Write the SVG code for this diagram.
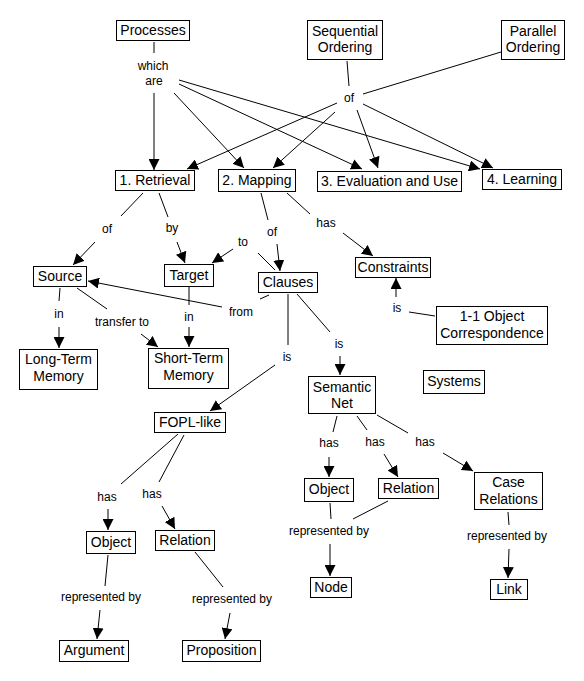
<svg xmlns="http://www.w3.org/2000/svg" width="584" height="681" viewBox="0 0 584 681">
<defs>
<style>
.n rect{fill:#fff;stroke:#000;stroke-width:1}
.n text{font-family:"Liberation Sans",Arial,sans-serif;font-size:14px;fill:#000;text-anchor:middle}
.lb{font-family:"Liberation Sans",Arial,sans-serif;font-size:12px;fill:#000;text-anchor:middle}
.c line{stroke:#000;stroke-width:1}
.a{marker-end:url(#ah)}
</style>
<marker id="ah" viewBox="0 0 10 10" refX="10" refY="5" markerWidth="11" markerHeight="11" markerUnits="userSpaceOnUse" orient="auto"><path d="M0,0 L10,5 L0,10 z" fill="#000"/></marker>
</defs>
<rect width="584" height="681" fill="#fff"/>
<g class="c" id="connectors">
<line x1="154" y1="42" x2="154" y2="53"/>
<line class="a" x1="154" y1="93" x2="154" y2="170"/>
<line class="a" x1="174" y1="93" x2="244" y2="168"/>
<line class="a" x1="179" y1="84" x2="362" y2="169"/>
<line class="a" x1="179" y1="80" x2="480" y2="169"/>
<line x1="347" y1="61" x2="349" y2="86"/>
<line x1="501" y1="52" x2="363" y2="94"/>
<line class="a" x1="337" y1="103" x2="187" y2="169"/>
<line class="a" x1="335" y1="112" x2="273" y2="168"/>
<line class="a" x1="357" y1="110" x2="378" y2="168"/>
<line class="a" x1="363" y1="104" x2="493" y2="168"/>
<line x1="143" y1="193" x2="121" y2="216"/>
<line class="a" x1="95" y1="242" x2="73" y2="265"/>
<line x1="159" y1="193" x2="168" y2="217"/>
<line class="a" x1="177" y1="242" x2="185" y2="263"/>
<line x1="261" y1="193" x2="268" y2="220"/>
<line class="a" x1="277" y1="244" x2="280" y2="271"/>
<line x1="275" y1="270" x2="258" y2="253"/>
<line class="a" x1="233" y1="249" x2="212" y2="263"/>
<line x1="287" y1="193" x2="310" y2="214"/>
<line class="a" x1="343" y1="233" x2="373" y2="256"/>
<line x1="435" y1="316" x2="409" y2="312"/>
<line class="a" x1="396" y1="297" x2="396" y2="278"/>
<line x1="269" y1="295" x2="260" y2="299"/>
<line class="a" x1="222" y1="307" x2="88" y2="281"/>
<line x1="60" y1="288" x2="59" y2="301"/>
<line class="a" x1="59" y1="327" x2="59" y2="348"/>
<line x1="77" y1="288" x2="107" y2="309"/>
<line class="a" x1="141" y1="334" x2="158" y2="347"/>
<line x1="189" y1="287" x2="189" y2="305"/>
<line class="a" x1="189" y1="327" x2="189" y2="347"/>
<line x1="288" y1="294" x2="288" y2="345"/>
<line class="a" x1="275" y1="365" x2="210" y2="411"/>
<line x1="297" y1="294" x2="330" y2="332"/>
<line class="a" x1="340" y1="356" x2="340" y2="375"/>
<line x1="178" y1="434" x2="121" y2="484"/>
<line class="a" x1="108" y1="509" x2="108" y2="530"/>
<line x1="184" y1="435" x2="159" y2="482"/>
<line class="a" x1="162" y1="506" x2="175" y2="529"/>
<line x1="108" y1="555" x2="105" y2="586"/>
<line class="a" x1="100" y1="610" x2="97" y2="639"/>
<line x1="195" y1="552" x2="223" y2="587"/>
<line class="a" x1="230" y1="613" x2="225" y2="639"/>
<line x1="337" y1="416" x2="333" y2="432"/>
<line class="a" x1="329" y1="457" x2="329" y2="477"/>
<line x1="357" y1="416" x2="367" y2="430"/>
<line class="a" x1="384" y1="454" x2="398" y2="477"/>
<line x1="377" y1="415" x2="408" y2="433"/>
<line class="a" x1="443" y1="453" x2="473" y2="471"/>
<line x1="330" y1="503" x2="331" y2="519"/>
<line x1="388" y1="501" x2="353" y2="519"/>
<line class="a" x1="330" y1="544" x2="330" y2="576"/>
<line x1="508" y1="512" x2="509" y2="525"/>
<line class="a" x1="509" y1="549" x2="508" y2="578"/>
</g>
<g id="labels">
<text class="lb" x="153" y="70">which</text>
<text class="lb" x="154" y="85">are</text>
<text class="lb" x="349" y="102">of</text>
<text class="lb" x="107" y="233">of</text>
<text class="lb" x="172" y="232">by</text>
<text class="lb" x="272" y="236">of</text>
<text class="lb" x="243" y="246">to</text>
<text class="lb" x="326" y="227">has</text>
<text class="lb" x="397" y="312">is</text>
<text class="lb" x="241" y="316">from</text>
<text class="lb" x="59" y="318">in</text>
<text class="lb" x="122" y="326">transfer to</text>
<text class="lb" x="189" y="321">in</text>
<text class="lb" x="287" y="361">is</text>
<text class="lb" x="339" y="348">is</text>
<text class="lb" x="107" y="501">has</text>
<text class="lb" x="152" y="498">has</text>
<text class="lb" x="101" y="601">represented by</text>
<text class="lb" x="232" y="603">represented by</text>
<text class="lb" x="329" y="447">has</text>
<text class="lb" x="375" y="446">has</text>
<text class="lb" x="425" y="446">has</text>
<text class="lb" x="329" y="535">represented by</text>
<text class="lb" x="507" y="540">represented by</text>
</g>
<g class="n" id="processes"><rect x="116.5" y="20.5" width="73" height="20"/><text x="153" y="35">Processes</text></g>
<g class="n" id="sequential"><rect x="307.5" y="20.5" width="75" height="39"/><text x="345" y="36">Sequential</text><text x="345" y="52">Ordering</text></g>
<g class="n" id="parallel"><rect x="501.5" y="20.5" width="63" height="39"/><text x="533" y="36">Parallel</text><text x="533" y="52">Ordering</text></g>
<g class="n" id="retrieval"><rect x="115.5" y="170.5" width="79" height="20"/><text x="155" y="185">1. Retrieval</text></g>
<g class="n" id="mapping"><rect x="218.5" y="169.5" width="77" height="22"/><text x="257" y="185">2. Mapping</text></g>
<g class="n" id="evaluation"><rect x="317.5" y="171.5" width="144" height="20"/><text x="389.5" y="186">3. Evaluation and Use</text></g>
<g class="n" id="learning"><rect x="482.5" y="169.5" width="79" height="20"/><text x="522" y="184">4. Learning</text></g>
<g class="n" id="source"><rect x="33.5" y="266.5" width="53" height="20"/><text x="60" y="281">Source</text></g>
<g class="n" id="target"><rect x="164.5" y="264.5" width="49" height="22"/><text x="189" y="280">Target</text></g>
<g class="n" id="clauses"><rect x="258.5" y="272.5" width="59" height="20"/><text x="288" y="287">Clauses</text></g>
<g class="n" id="constraints"><rect x="355.5" y="257.5" width="75" height="20"/><text x="393" y="272">Constraints</text></g>
<g class="n" id="correspondence"><rect x="436.5" y="306.5" width="111" height="38"/><text x="492" y="321">1-1 Object</text><text x="492" y="338">Correspondence</text></g>
<g class="n" id="ltm"><rect x="19.5" y="349.5" width="78" height="40"/><text x="58.5" y="364">Long-Term</text><text x="58.5" y="381">Memory</text></g>
<g class="n" id="stm"><rect x="148.5" y="348.5" width="80" height="40"/><text x="188.5" y="363">Short-Term</text><text x="188.5" y="380">Memory</text></g>
<g class="n" id="semnet"><rect x="308.5" y="376.5" width="67" height="37"/><text x="342" y="392">Semantic</text><text x="342" y="408">Net</text></g>
<g class="n" id="systems"><rect x="423.5" y="370.5" width="61" height="23"/><text x="454" y="386">Systems</text></g>
<g class="n" id="fopl"><rect x="154.5" y="412.5" width="71" height="20"/><text x="190" y="427">FOPL-like</text></g>
<g class="n" id="object1"><rect x="86.5" y="531.5" width="49" height="22"/><text x="111" y="547">Object</text></g>
<g class="n" id="relation1"><rect x="155.5" y="530.5" width="59" height="20"/><text x="185" y="545">Relation</text></g>
<g class="n" id="argument"><rect x="59.5" y="640.5" width="69" height="21"/><text x="94" y="655">Argument</text></g>
<g class="n" id="proposition"><rect x="182.5" y="640.5" width="78" height="21"/><text x="221.5" y="655">Proposition</text></g>
<g class="n" id="object2"><rect x="304.5" y="478.5" width="49" height="23"/><text x="329" y="494">Object</text></g>
<g class="n" id="relation2"><rect x="378.5" y="478.5" width="60" height="20"/><text x="408.5" y="493">Relation</text></g>
<g class="n" id="caserel"><rect x="474.5" y="472.5" width="68" height="37"/><text x="508.5" y="487">Case</text><text x="508.5" y="504">Relations</text></g>
<g class="n" id="node"><rect x="310.5" y="577.5" width="41" height="20"/><text x="331" y="592">Node</text></g>
<g class="n" id="link"><rect x="490.5" y="579.5" width="37" height="20"/><text x="509" y="594">Link</text></g>
</svg>
